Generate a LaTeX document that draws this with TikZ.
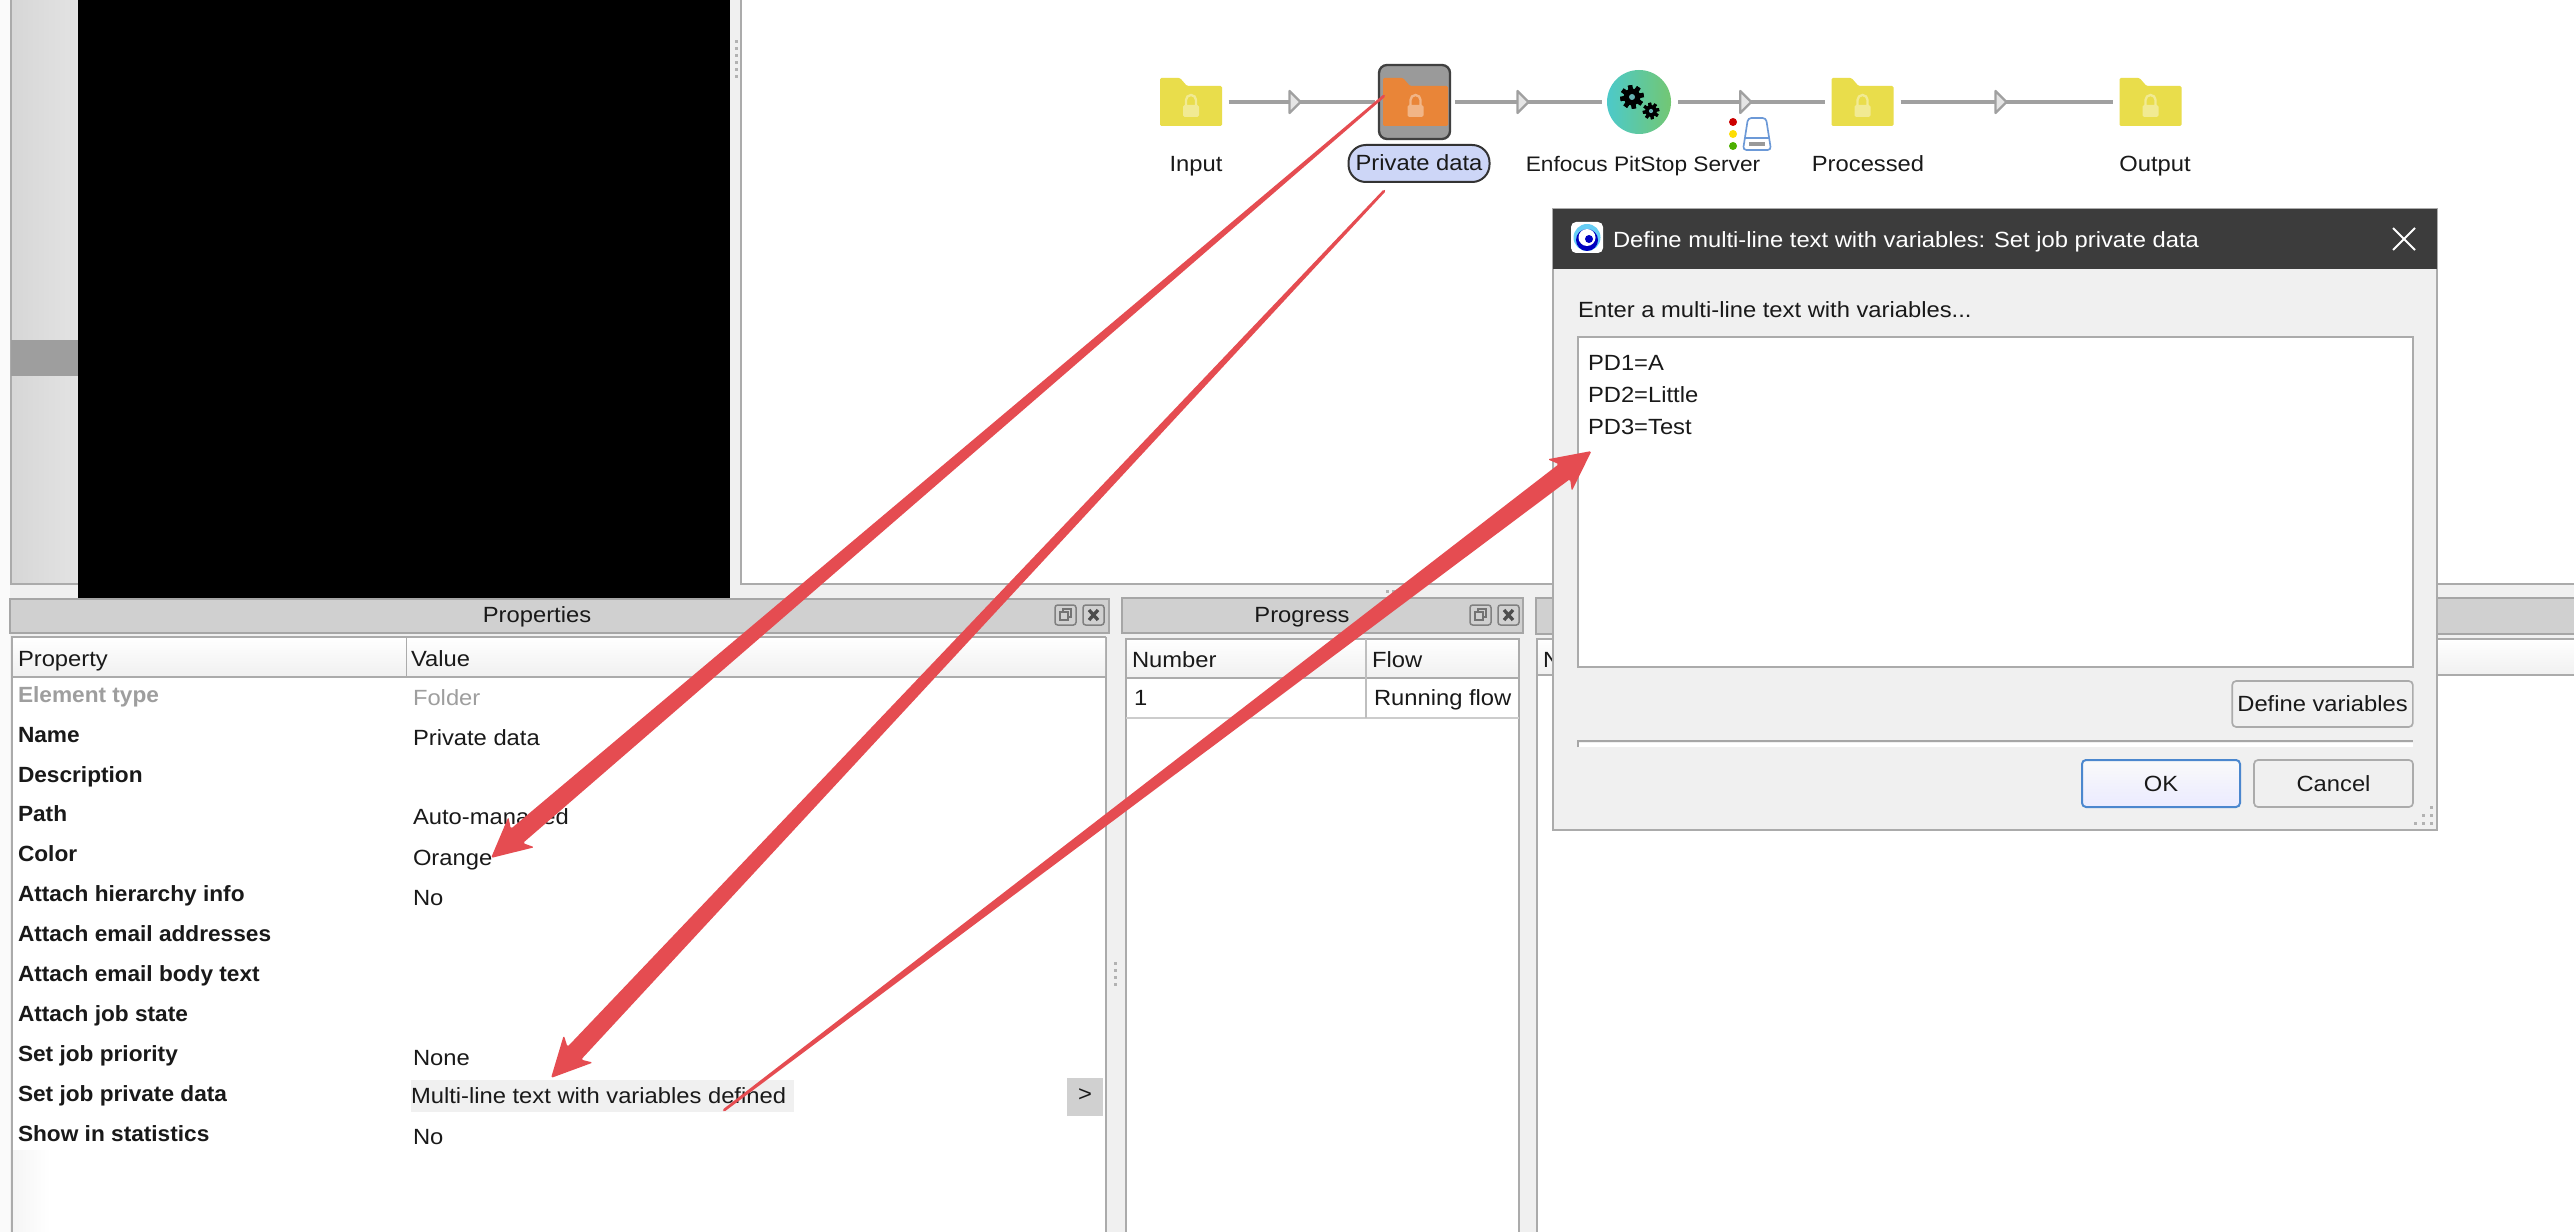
\documentclass[tikz,border=0pt]{standalone}
\usepackage{fontspec}
\setmainfont[FakeStretch=1.08,BoldFeatures={FakeStretch=1.03}]{Liberation Sans}
\usetikzlibrary{calc,decorations.markings,shapes.geometric}
\definecolor{bgc}{HTML}{F0F0F0}
\definecolor{edgec}{HTML}{ABABAB}
\definecolor{hdrc}{HTML}{D0D0D0}
\definecolor{arrowred}{HTML}{E54C51}
\definecolor{flowc}{HTML}{A0A0A0}
\definecolor{foldery}{HTML}{E9DD4B}
\definecolor{foldero}{HTML}{E98538}
\definecolor{selc}{HTML}{9A9A9A}
\definecolor{pillc}{HTML}{CDD6F7}
\definecolor{titlec}{HTML}{3C3C3C}
\tikzset{
  x=.3pt,y=-.3pt,
  txt/.style={inner sep=0pt,outer sep=0pt,font=\fontsize{6.6}{8}\selectfont,text height=4.9pt,text depth=1.4pt,text=black!90},
  lefttxt/.style={txt,anchor=west},
  boldtxt/.style={lefttxt,font=\fontsize{6.6}{8}\selectfont\bfseries},
  greytxt/.style={text=black!38},
  btxt/.style={font=\fontsize{6.6}{8}\selectfont,text height=5.4pt,text depth=.9pt,text=black!90},
  foldernode/.style={inner sep=0pt,outer sep=0pt,minimum width=18.6pt,minimum height=14.4pt},
  panel/.style={draw=edgec,line width=.6pt},
  btn/.style={draw=edgec,line width=.5pt,fill=bgc,rounded corners=1.2pt},
  flowline/.style={draw=flowc,line width=1.2pt,shorten <=#1,shorten >=#1,
    postaction={decorate},
    decoration={markings,mark=at position .5 with {
      \filldraw[fill=black!10,draw=flowc,line width=.7pt,line join=round] (-11,-11) -- (0,0) -- (-11,11) -- cycle;}}},
  flowline/.default=2pt,
}
\newcommand\folderfill[2]{%
  \fill[#2,rounded corners=.4pt] (#1.south west) -- (#1.north west) -- ++(20,0) -- ++(7,8) -- ($(#1.north east)+(0,8)$) -- (#1.south east) -- cycle;
  \fill[white,opacity=.4,rounded corners=.5pt] ($(#1.center)+(-8,3)$) rectangle ($(#1.center)+(8,15)$);
  \draw[white,opacity=.4,line width=.7pt] ($(#1.center)+(-5,3)$) -- ++(0,-5) arc[start angle=180,end angle=360,radius=5] -- ++(0,5);
}
\newcommand\redarrow[2]{%
  \coordinate (rn) at ($(#2)!10.2pt!(#1)$);
  \coordinate (rh) at ($(#2)!12pt!(#1)$);
  \fill[arrowred,rounded corners=.5pt]
    ($(#1)!.4pt!90:(#2)$) -- ($(rn)!2.8pt!90:(#2)$) -- ($(rh)!6pt!90:(#2)$) -- (#2) --
    ($(rh)!6pt!-90:(#2)$) -- ($(rn)!2.8pt!-90:(#2)$) -- ($(#1)!.4pt!-90:(#2)$) -- cycle;
}
\newcommand\winicons[2]{%
  \draw[black!50,line width=.45pt,rounded corners=.8pt] (#1,#2) rectangle ++(21,20);
  \draw[black!55,line width=.4pt] (#1+5,#2+7) rectangle ++(8,8);
  \draw[black!55,line width=.4pt] (#1+8,#2+7) -- ++(0,-3) -- ++(8,0) -- ++(0,8) -- ++(-3,0);
  \draw[black!50,line width=.45pt,rounded corners=.8pt] (#1+28,#2) rectangle ++(21,20);
  \draw[black!70,line width=1pt] (#1+34,#2+5) -- ++(9,10) (#1+43,#2+5) -- ++(-9,10);
}
\newcommand\gearshape[3]{%
  \foreach \a in {0,45,...,315}{\fill[black,rotate around={\a+10:(#1,#2)}] (#1-#3*.22,#2-#3*1.18) rectangle (#1+#3*.22,#2+#3*1.18);}
  \fill[black] (#1,#2) circle[radius=#3*.85];
  \fill[black!0!teal!60!white] (#1,#2) circle[radius=#3*.3];
}
\begin{document}
\begin{tikzpicture}
\useasboundingbox (0,0) rectangle (2574,1232);
\fill[bgc] (0,0) rectangle (2574,1232);
\fill[black!2] (0,0) rectangle (10,1232);
% left strip
\path[left color=black!16,right color=black!11] (10,0) rectangle (78,584);
\draw[panel] (11,0) -- (11,584) -- (78,584);
\fill[black!38] (11,340) rectangle (78,376);
\fill[black] (78,0) rectangle (730,599);
% canvas
\fill[white] (741,0) rectangle (2574,584);
\draw[panel] (741,0) -- (741,584) -- (2574,584);
\foreach \yy in {40,47,...,75} \fill[black!30] (735,\yy) rectangle ++(3,3);
\foreach \xx in {1386,1392} \fill[black!30] (\xx,590) rectangle ++(3,3);
% flow
\node[foldernode] (input) at (1191,102) {};
\node[rectangle,rounded corners=2.4pt,fill=selc,draw=black!75,line width=.7pt,inner sep=0pt,outer sep=0pt,minimum width=21.3pt,minimum height=22.2pt] (privbox) at (1414.5,102) {};
\node[foldernode,minimum width=19.5pt] (priv) at (1415.5,102) {};
\node[circle,inner sep=0pt,outer sep=0pt,minimum size=19.2pt,left color=teal!60!cyan!70!white,right color=green!60!black!55!white] (pit) at (1639,102) {};
\node[foldernode] (proc) at (1862.5,102) {};
\node[foldernode] (out) at (2150.5,102) {};
\folderfill{input}{foldery}
\folderfill{priv}{foldero}
\folderfill{proc}{foldery}
\folderfill{out}{foldery}
\draw[flowline=2pt,shorten >=1.2pt] (input) ++(31,0) -- ($(privbox.west)$);
\draw[flowline=1.5pt] (privbox.east) -- (pit.west);
\draw[flowline=2.1pt] (pit.east) -- (proc.west);
\draw[flowline=2.1pt] (proc.east) -- (out.west);
\gearshape{1632}{97}{10}
\gearshape{1651}{111}{7}
\foreach \yy/\cc in {122/red!80!black,134/yellow!80!orange,146/green!55!black!70!yellow} \fill[\cc] (1733,\yy) circle[radius=4];
\draw[cyan!50!blue!60!white,line width=.5pt,rounded corners=1pt,fill=white] (1748,118) -- (1766,118) -- (1771,150) -- (1743,150) -- cycle;
\draw[cyan!50!blue!60!white,line width=.4pt] (1744,138) -- (1770,138);
\fill[black!40] (1749,142) rectangle (1765,146);
\node[txt] (linput) at (1196,166) {Input};
\node[rectangle,rounded corners=5.2pt,fill=pillc,draw=black!80,line width=.6pt,inner sep=0pt,minimum width=42.3pt,minimum height=11.1pt,btxt] (lpriv) at (1419,163.5) {Private data};
\node[txt,font=\fontsize{6.3}{8}\selectfont] (lpit) at (1643,166) {Enfocus PitStop Server};
\node[txt] (lproc) at (1868,166) {Processed};
\node[txt] (lout) at (2155,166) {Output};
% Properties
\fill[hdrc] (10,599) rectangle (1109,633);
\draw[black!35,line width=.5pt] (10,633) -- (10,599) -- (1109,599) -- (1109,633) -- cycle;
\node[txt] (tprop) at (537,617) {Properties};
\winicons{1055}{605}
\fill[white] (12,637) rectangle (1106,1232);
\path[left color=black!4,right color=white] (12,1150) rectangle (50,1232);
\draw[panel] (12,1232) -- (12,637) -- (1106,637);
\draw[panel] (1106,637) -- (1106,1232);
\path[top color=white,bottom color=bgc] (13,638) rectangle (1105,677);
\draw[panel] (12,677) -- (1106,677);
\draw[edgec,line width=.5pt] (406.5,638) -- (406.5,677);
\node[lefttxt] (hp) at (18,661) {Property};
\node[lefttxt] (hv) at (411,661) {Value};
\node[boldtxt,greytxt] (p1) at (18,697) {Element type};
\node[boldtxt] (p2) at (18,737) {Name};
\node[boldtxt] (p3) at (18,777) {Description};
\node[boldtxt] (p4) at (18,816) {Path};
\node[boldtxt] (p5) at (18,856) {Color};
\node[boldtxt] (p6) at (18,896) {Attach hierarchy info};
\node[boldtxt] (p7) at (18,936) {Attach email addresses};
\node[boldtxt] (p8) at (18,976) {Attach email body text};
\node[boldtxt] (p9) at (18,1016) {Attach job state};
\node[boldtxt] (p10) at (18,1056) {Set job priority};
\node[boldtxt] (p11) at (18,1096) {Set job private data};
\node[boldtxt] (p12) at (18,1136) {Show in statistics};
\node[lefttxt,greytxt] (v1) at (413,700) {Folder};
\node[lefttxt] (v2) at (413,740) {Private data};
\node[lefttxt] (v4) at (413,819) {Auto-managed};
\node[lefttxt] (v5) at (413,860) {Orange};
\node[lefttxt] (v6) at (413,900) {No};
\node[lefttxt] (v10) at (413,1060) {None};
\fill[black!6] (411,1080) rectangle (794,1112);
\node[lefttxt] (v11) at (411,1098) {Multi-line text with variables defined};
\node[lefttxt] (v12) at (413,1139) {No};
\fill[hdrc] (1067,1078) rectangle (1102.5,1116);
\node[txt] (vb) at (1085,1096) {>};
\foreach \yy in {962,969,976,983} \fill[black!30] (1114,\yy) rectangle ++(3,3);
% Progress
\fill[hdrc] (1122,598) rectangle (1523,633);
\draw[black!35,line width=.5pt] (1122,598) rectangle (1523,633);
\node[txt] (tprog) at (1302,617) {Progress};
\winicons{1470}{605}
\fill[white] (1126,639) rectangle (1518.5,1232);
\path[top color=white,bottom color=bgc] (1126,639) rectangle (1518.5,678);
\draw[panel] (1126,1232) -- (1126,639) -- (1518.5,639) -- (1518.5,1232);
\draw[panel] (1126,678) -- (1518.5,678);
\draw[black!20,line width=.6pt] (1126,718) -- (1518.5,718);
\draw[black!25,line width=.6pt] (1366,639) -- (1366,718);
\node[lefttxt] (hn) at (1132,662) {Number};
\node[lefttxt] (hf) at (1372,662) {Flow};
\node[lefttxt] (r1) at (1134,700) {1};
\node[lefttxt] (r2) at (1374,700) {Running flow};
% third panel
\fill[hdrc] (1536,598) rectangle (2574,634);
\draw[black!35,line width=.5pt] (2574,634) -- (1536,634) -- (1536,598) -- (2574,598);
\fill[white] (1537,639) rectangle (2574,1232);
\path[top color=white,bottom color=bgc] (1537,639) rectangle (2574,675);
\draw[panel] (1537,1232) -- (1537,639) -- (2574,639);
\draw[panel] (1537,675) -- (2574,675);
\node[lefttxt] (hn3) at (1543,662) {N};
% dialog
\fill[bgc,draw=edgec,line width=.7pt] (1553,209) rectangle (2437,830);
\fill[titlec] (1553,209) rectangle (2437,269);
\fill[white,rounded corners=1.5pt] (1571,222) rectangle (1603,253);
\fill[cyan!60!white] (1587,237.5) circle[radius=13.5];
\fill[blue!75!black] (1587,240) circle[radius=11];
\fill[white] (1587,237.5) circle[radius=8.5];
\fill[blue!75!black] (1589,239) circle[radius=4];
\node[lefttxt,text=white] (dt) at (1613,241.5) {Define multi-line text with variables: Set job private data};
\draw[white,line width=.55pt] (2393,228) -- (2415,250) (2415,228) -- (2393,250);
\node[lefttxt] (dp) at (1578,312) {Enter a multi-line text with variables...};
\node[draw=edgec,fill=white,line width=.6pt,inner sep=0pt,outer sep=0pt,minimum width=250.5pt,minimum height=99pt] (box) at (1995.5,502) {};
\node[lefttxt] (pd1) at (1588,365) {PD1=A};
\node[lefttxt] (pd2) at (1588,397) {PD2=Little};
\node[lefttxt] (pd3) at (1588,429) {PD3=Test};
\node[btn,inner sep=0pt,minimum width=54.2pt,minimum height=13.8pt,btxt] (bdef) at (2322.5,704) {Define variables};
\draw[black!35,line width=.5pt] (1578,747) -- (1578,741) -- (2413,741);
\fill[white] (1579,743) rectangle (2413,747);
\node[rectangle,rounded corners=1.2pt,draw=cyan!50!blue!75!white,line width=.6pt,top color=black!2,bottom color=blue!8!white,inner sep=0pt,minimum width=47.4pt,minimum height=14.1pt,btxt] (bok) at (2161,783.5) {OK};
\node[btn,inner sep=0pt,minimum width=47.7pt,minimum height=14.1pt,btxt] (bcan) at (2333.5,783.5) {Cancel};
\foreach \xx/\yy in {2430/806,2430/814,2430/822,2422/814,2422/822,2414/822} \fill[black!30] (\xx,\yy) rectangle ++(3,3);
% red arrows
\coordinate (a1s) at (1385,95);
\coordinate (a1e) at (491,858);
\coordinate (a2s) at (1385,190);
\coordinate (a2e) at (551,1078);
\coordinate (a3s) at (723,1111);
\coordinate (a3e) at (1591.5,451);
\redarrow{a1s}{a1e}
\redarrow{a2s}{a2e}
\redarrow{a3s}{a3e}
\end{tikzpicture}
\end{document}
